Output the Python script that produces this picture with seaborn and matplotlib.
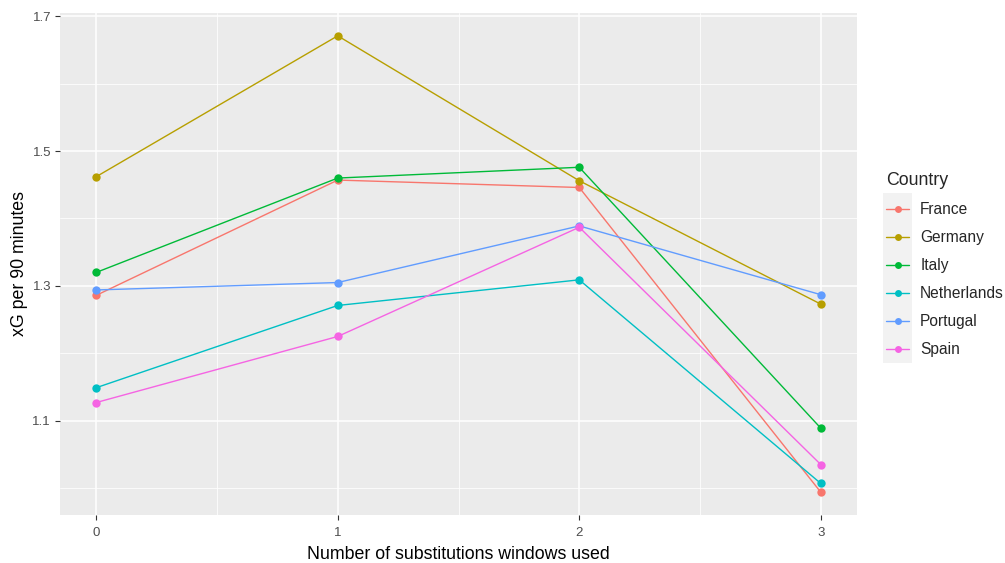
import pandas as pd
import numpy as np
import matplotlib
matplotlib.use("Agg")
import matplotlib.pyplot as plt
import seaborn as sns
from matplotlib.patches import Rectangle

# Данные
windows = [0, 1, 2, 3]
countries = ["France", "Germany", "Italy", "Netherlands", "Portugal", "Spain"]
france = [1.286, 1.457, 1.446, 0.994]
germany = [1.462, 1.671, 1.456, 1.273]
italy = [1.320, 1.460, 1.476, 1.089]
netherlands = [1.149, 1.271, 1.309, 1.007]
portugal = [1.294, 1.305, 1.389, 1.287]
spain = [1.127, 1.225, 1.387, 1.035]
palette = ["#F8766D", "#B79F00", "#00BA38", "#00BFC4", "#619CFF", "#F564E3"]

series = [france, germany, italy, netherlands, portugal, spain]
df = pd.DataFrame({
    "windows": windows * len(countries),
    "xg": [v for s in series for v in s],
    "Country": [c for c in countries for _ in windows],
})

sns.set_theme(style="darkgrid")
plt.rcParams["font.family"] = ["Liberation Sans", "DejaVu Sans"]

fig = plt.figure(figsize=(10.05, 5.63), dpi=100)
ax = fig.add_axes([60 / 1005, 48 / 563, 797 / 1005, 502 / 563])
ax.set_facecolor("#EBEBEB")

sns.lineplot(data=df, x="windows", y="xg", hue="Country", palette=palette,
             marker="o", markersize=6, markeredgewidth=0, linewidth=1,
             ax=ax, legend=False)

# сетка как в ggplot
ax.set_xlim(-0.15, 3.15)
lo, hi = df["xg"].min(), df["xg"].max()
pad = (hi - lo) * 0.05
ax.set_ylim(lo - pad, hi + pad)
ax.set_xticks(windows)
ax.set_xticks([0.5, 1.5, 2.5], minor=True)
ax.set_yticks([1.1, 1.3, 1.5, 1.7])
ax.set_yticks([1.0, 1.2, 1.4, 1.6], minor=True)
ax.grid(which="major", color="white", linewidth=1.1)
ax.grid(which="minor", color="white", linewidth=0.55)
ax.set_axisbelow(True)
for sp in ax.spines.values():
    sp.set_visible(False)
ax.tick_params(axis="both", which="major", colors="#333333", labelcolor="#4D4D4D",
               labelsize=9.5, length=3.5, width=0.8, pad=3, left=True, bottom=True)
ax.tick_params(axis="x", pad=5)
ax.tick_params(which="minor", length=0)
ax.set_xlabel("Number of substitutions windows used", fontsize=12.8, color="black", labelpad=5)
ax.set_ylabel("xG per 90 minutes", fontsize=12.8, color="black", labelpad=3)

# легенда
handles = [plt.Line2D([], [], color=c, marker="o", markersize=5, markeredgewidth=0, linewidth=1)
           for c in palette]
fig.patches.append(Rectangle((883 / 1005, 1 - 363 / 563), 29 / 1005, 170 / 563,
                             transform=fig.transFigure, facecolor="#F2F2F2",
                             edgecolor="none", zorder=0))
leg = fig.legend(handles, countries, loc="upper left", bbox_to_anchor=(886 / 1005, 1 - 172 / 563),
                 frameon=False, title="Country", fontsize=11.2, title_fontsize=12.8,
                 handlelength=1.5, handletextpad=0.7, labelspacing=0.84,
                 borderpad=0, borderaxespad=0)
leg._legend_box.align = "left"

fig.savefig("out.png", dpi=100, facecolor="white")
